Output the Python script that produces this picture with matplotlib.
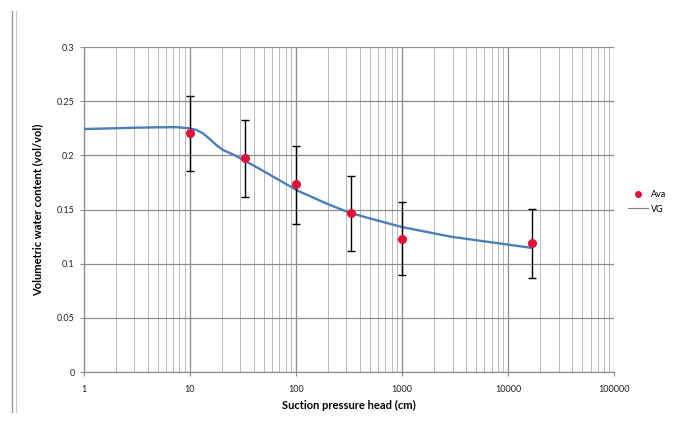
import numpy as np
import matplotlib.pyplot as plt
from matplotlib.lines import Line2D
from matplotlib.ticker import LogLocator, FixedLocator, FixedFormatter

# measured points (Ava)
suction = [10, 33, 100, 330, 1000, 17000]
theta = [0.2206, 0.1975, 0.1733, 0.1465, 0.1225, 0.1194]
err_low = [0.0351, 0.0362, 0.0364, 0.0345, 0.0330, 0.0324]
err_high = [0.0345, 0.0351, 0.0353, 0.0344, 0.0341, 0.0311]

# fitted van Genuchten curve (VG)
vg_h = [1, 2, 3, 5.2, 7.5, 10, 11.6, 13.3, 15.4, 17.8, 20.6, 25.5, 31.7,
        45.6, 70, 104, 200, 320, 493, 1000, 2900, 6000, 17000]
vg_theta = [0.2243, 0.2250, 0.2255, 0.2259, 0.2260, 0.2249, 0.2234, 0.2203,
            0.2151, 0.2095, 0.2049, 0.2009, 0.1960, 0.1875, 0.1770, 0.1674,
            0.1550, 0.1471, 0.1419, 0.1338, 0.1249, 0.1206, 0.1145]

x_ticks = [1, 10, 100, 1000, 10000, 100000]
x_labels = ["1", "10", "100", "1000", "10000", "100000"]
y_ticks = [0, 0.05, 0.1, 0.15, 0.2, 0.25, 0.3]
y_labels = ["0", "0.05", "0.1", "0.15", "0.2", "0.25", "0.3"]

plt.rcParams['font.family'] = ['Lato', 'DejaVu Sans']

fig = plt.figure(figsize=(6.85, 4.25), dpi=100)
ax = fig.add_axes([0.1222, 0.1247, 0.7742, 0.7647])

ax.plot(vg_h, vg_theta, color='#4a7ebb', lw=1.7, label='VG', zorder=3)
ax.errorbar(suction, theta, yerr=[err_low, err_high], fmt='none',
            ecolor='black', elinewidth=1.0, capsize=3, capthick=1.0, zorder=4)
ax.plot(suction, theta, 'o', color='#e0103a', ms=5.5, mec='#e0103a', zorder=5)

ax.set_xscale('log')
ax.set_xlim(1, 100000)
ax.set_ylim(0, 0.3)
ax.xaxis.set_major_locator(FixedLocator(x_ticks))
ax.xaxis.set_major_formatter(FixedFormatter(x_labels))
ax.xaxis.set_minor_locator(LogLocator(base=10, subs=np.arange(2, 10)))
ax.xaxis.set_minor_formatter(FixedFormatter([]))
ax.yaxis.set_major_locator(FixedLocator(y_ticks))
ax.yaxis.set_major_formatter(FixedFormatter(y_labels))

ax.grid(True, which='major', color='#8c8c8c', lw=0.9)
ax.grid(True, which='minor', axis='x', color='#b8b8b8', lw=0.7)
ax.set_axisbelow(True)

for s in ['top', 'right']:
    ax.spines[s].set_visible(False)
for s in ['left', 'bottom']:
    ax.spines[s].set_color('#8c8c8c')
    ax.spines[s].set_linewidth(0.9)

ax.tick_params(axis='both', which='major', labelsize=6.5, colors='#8c8c8c',
               labelcolor='#222222', length=3, width=0.8)
ax.tick_params(axis='x', which='minor', length=0)
ax.tick_params(axis='x', which='major', pad=6)

ax.set_xlabel('Suction pressure head (cm)', fontsize=8, fontweight='bold', labelpad=5)
ax.set_ylabel('Volumetric water content (vol/vol)', fontsize=8, fontweight='bold', labelpad=10)

handles = [Line2D([], [], marker='o', ls='none', color='#e0103a', ms=4),
           Line2D([], [], color='#7f7f7f', lw=0.8)]
fig.legend(handles, ['Ava', 'VG'], loc='center left', bbox_to_anchor=(0.905, 0.525),
           frameon=False, fontsize=6.5, handlelength=2.2, handletextpad=0.3,
           labelspacing=0.6)

# page border lines at the left edge
fig.add_artist(Line2D([12 / 685, 12 / 685], [0.03, 0.975], color='#9a9a9a', lw=1.0))
fig.add_artist(Line2D([16 / 685, 16 / 685], [0.03, 0.975], color='#c8c8c8', lw=0.8))

fig.savefig('out.png', dpi=100)
